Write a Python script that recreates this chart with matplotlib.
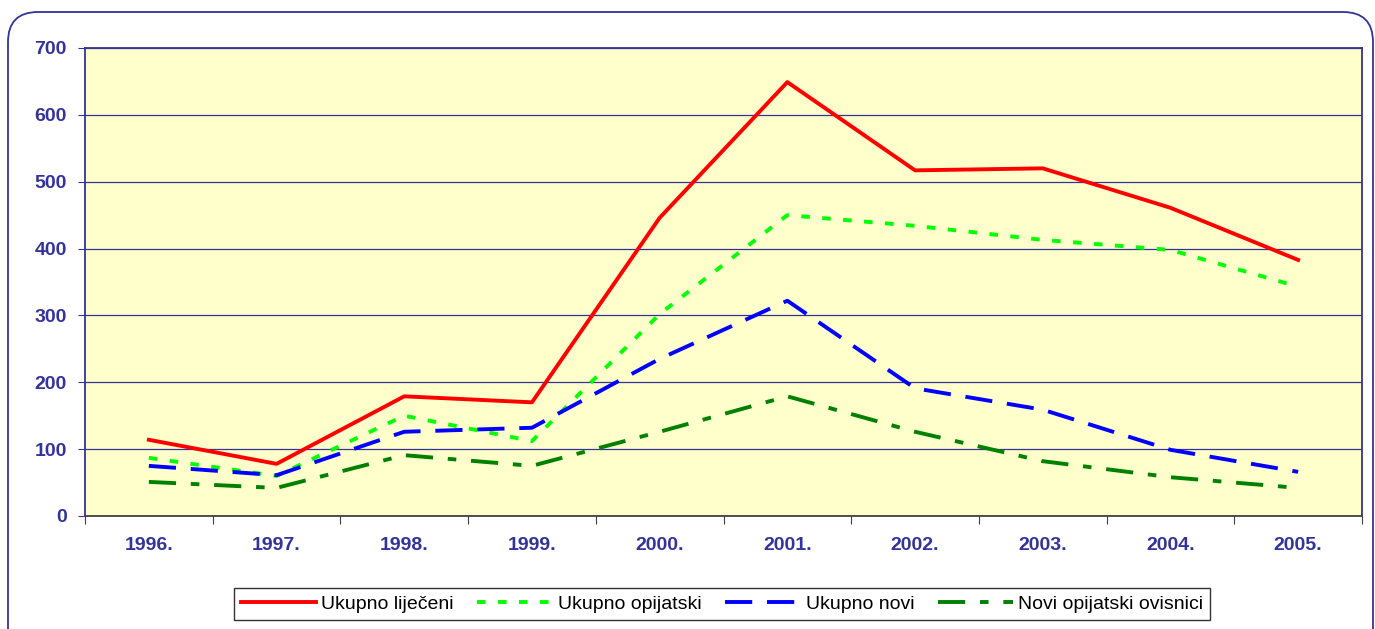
import matplotlib
matplotlib.use("Agg")
import matplotlib.pyplot as plt
from matplotlib.patches import FancyBboxPatch
import numpy as np

plt.rcParams['font.family'] = ['Liberation Sans', 'DejaVu Sans']

years = ['1996.', '1997.', '1998.', '1999.', '2000.', '2001.', '2002.', '2003.', '2004.', '2005.']
ukupno_lijeceni = [114, 78, 179, 170, 446, 649, 517, 520, 461, 383]
ukupno_opijatski = [87, 60, 150, 112, 302, 450, 434, 413, 398, 343]
ukupno_novi = [75, 61, 126, 132, 235, 322, 191, 159, 99, 66]
novi_opijatski = [51, 42, 91, 75, 126, 179, 126, 82, 58, 42]

axis_col = '#333399'

fig = plt.figure(figsize=(13.75, 6.29), dpi=100)
ax = fig.add_axes([85 / 1375, 113 / 629, 1277 / 1375, 468 / 629])
ax.set_facecolor('#FFFFCC')

# rounded outer frame (coordinates in inches)
frame = FancyBboxPatch((0.08, -0.5), 13.65, 6.29 - 0.12 + 0.5,
                       boxstyle='round,pad=0,rounding_size=0.3',
                       transform=fig.dpi_scale_trans, facecolor='none',
                       edgecolor=axis_col, linewidth=1.3)
fig.patches.append(frame)

x = np.arange(len(years))
ax.plot(x, ukupno_lijeceni, color='#FF0000', lw=2.8, label='Ukupno liječeni')
ax.plot(x, ukupno_opijatski, color='#00FF00', lw=2.8, dashes=(2.2, 3.2), label='Ukupno opijatski')
ax.plot(x, ukupno_novi, color='#0000FF', lw=2.8, dashes=(7, 3.8), label='Ukupno novi')
ax.plot(x, novi_opijatski, color='#008000', lw=2.8, dashes=(7, 3.8, 2.2, 3.8), label='Novi opijatski ovisnici')

ax.set_xlim(-0.5, len(years) - 0.5)
ax.set_ylim(0, 700)
ax.set_yticks(range(0, 701, 100))
ax.set_xticks(np.arange(-0.5, len(years), 1.0))
ax.set_xticklabels([])
ax.set_xticks(x, minor=True)
ax.set_xticklabels(years, minor=True)
ax.tick_params(axis='x', which='minor', length=0, pad=15)
ax.tick_params(axis='x', which='major', length=6, color='#404040')
ax.tick_params(axis='y', length=5, color=axis_col, pad=8)
for lab in ax.get_xticklabels(minor=True) + ax.get_yticklabels():
    lab.set_fontweight('bold')
    lab.set_fontsize(14)
    lab.set_color(axis_col)

ax.grid(axis='y', color=axis_col, lw=0.9)
ax.set_axisbelow(True)
for s in ax.spines.values():
    s.set_color(axis_col)
    s.set_linewidth(1.3)
ax.spines['bottom'].set_color('#404040')

leg = fig.legend(loc='center', bbox_to_anchor=(722 / 1375, 1 - 604 / 629), ncol=4,
                 fontsize=14, frameon=True, fancybox=False, edgecolor='black',
                 handlelength=3.9, handletextpad=0.25, columnspacing=1.2,
                 borderpad=0.35)
leg.get_frame().set_linewidth(1.0)

fig.savefig('out.png', dpi=100)
